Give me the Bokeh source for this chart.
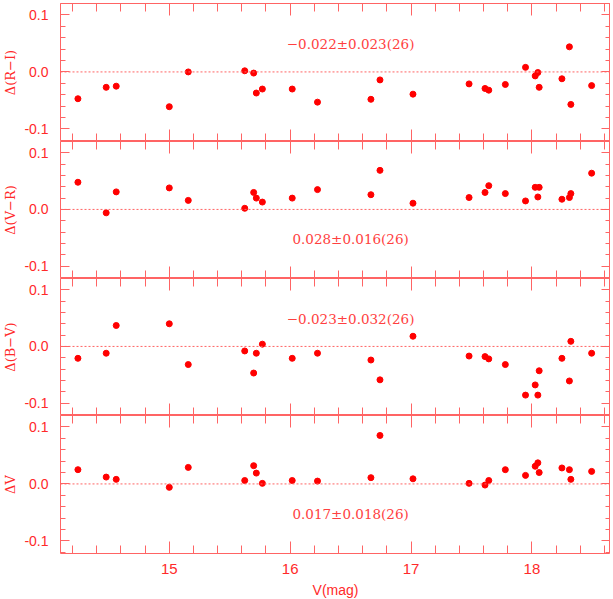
import numpy as np
from bokeh.plotting import figure
from bokeh.layouts import column
from bokeh.models import (Range1d, LinearAxis, FixedTicker,
                          PrintfTickFormatter, Span, ColumnDataSource, Label)
from bokeh.embed import file_html
from bokeh.resources import INLINE

# ---- data ----
v_mag = [14.244, 14.478, 14.561, 15.000, 15.157, 15.624, 15.698, 15.720, 15.770, 16.017,
         16.226, 16.668, 16.743, 17.016, 17.480, 17.612, 17.643, 17.780, 17.947, 18.027,
         18.049, 18.060, 18.248, 18.310, 18.322, 18.494]
d_ri = [-0.047, -0.027, -0.025, -0.061, 0.000, 0.002, -0.002, -0.037, -0.030, -0.030,
        -0.053, -0.048, -0.014, -0.039, -0.021, -0.029, -0.032, -0.022, 0.008, -0.007,
        -0.001, -0.027, -0.012, 0.044, -0.057, -0.024]
d_vr = [0.048, -0.006, 0.031, 0.038, 0.016, 0.002, 0.030, 0.020, 0.013, 0.020,
        0.035, 0.026, 0.069, 0.011, 0.021, 0.030, 0.042, 0.028, 0.015, 0.039,
        0.022, 0.039, 0.018, 0.021, 0.028, 0.064]
d_bv = [-0.021, -0.012, 0.037, 0.040, -0.032, -0.008, -0.047, -0.012, 0.004, -0.021,
        -0.012, -0.024, -0.059, 0.018, -0.017, -0.018, -0.022, -0.032, -0.086, -0.068,
        -0.086, -0.043, -0.021, -0.061, 0.009, -0.012]
d_v = [0.025, 0.012, 0.008, -0.006, 0.029, 0.006, 0.032, 0.019, 0.001, 0.006,
       0.005, 0.011, 0.085, 0.009, 0.001, -0.002, 0.006, 0.025, 0.015, 0.031,
       0.037, 0.020, 0.028, 0.025, 0.008, 0.022]

panel_labels = ["\u0394(R\u2212I)", "\u0394(V\u2212R)", "\u0394(B\u2212V)", "\u0394V"]
panel_values = [d_ri, d_vr, d_bv, d_v]
note_texts = ["\u22120.022\u00b10.023(26)", "0.028\u00b10.016(26)",
              "\u22120.023\u00b10.032(26)", "0.017\u00b10.018(26)"]
note_x = [16.5, 16.5, 16.5, 16.5]
note_y = [0.049, -0.052, 0.048, -0.052]
x_title = "V(mag)"

# ---- styling ----
FRAME = "#ff6464"
TXT = "#ff2a2a"
NOTE = "#ff4040"
DOT = "#ff0000"

X_LO, X_HI = 14.1, 18.65
Y_LO, Y_HI = -0.122, 0.12
x_major = [float(v) for v in np.arange(15, 19, 1)]
x_minor = [float(round(v, 2)) for v in np.arange(14.2, 18.61, 0.2)]
y_major = [float(round(v, 2)) for v in np.arange(-0.1, 0.11, 0.1)]
y_minor = [float(round(v, 2)) for v in np.arange(-0.12, 0.121, 0.02)]

frame_heights = [138, 137, 137, 138]

x_range = Range1d(X_LO, X_HI)


def tick_only_axis(positions, length):
    # axis without labels: ticks drawn as "minor" ticks only
    ax = LinearAxis(ticker=FixedTicker(ticks=[], minor_ticks=positions))
    ax.axis_line_color = None
    ax.major_tick_out = 0
    ax.major_tick_in = 0
    ax.minor_tick_out = 0
    ax.minor_tick_in = length
    ax.minor_tick_line_color = FRAME
    ax.minor_tick_line_width = 1
    ax.major_label_standoff = 0
    return ax


figs = []
n = len(panel_values)
for i in range(n):
    last = (i == n - 1)
    p = figure(frame_width=550, frame_height=frame_heights[i], x_range=x_range,
               y_range=Range1d(Y_LO, Y_HI),
               x_axis_type=None, y_axis_type=None,
               output_backend="svg", toolbar_location=None,
               min_border=0, min_border_left=52,
               min_border_top=(3 if i == 0 else 0))
    p.outline_line_color = FRAME
    p.outline_line_width = 1
    p.background_fill_color = "white"
    p.border_fill_color = "white"
    p.grid.visible = False

    # left axis with labels
    yl = LinearAxis(ticker=FixedTicker(ticks=y_major, minor_ticks=y_minor),
                    formatter=PrintfTickFormatter(format="%.1f"))
    yl.axis_line_color = None
    yl.major_tick_out = 0
    yl.minor_tick_out = 0
    yl.major_tick_in = 9
    yl.minor_tick_in = 5
    yl.major_tick_line_color = FRAME
    yl.minor_tick_line_color = FRAME
    yl.major_label_text_color = TXT
    yl.major_label_text_font = "Liberation Sans"
    yl.major_label_text_font_size = "14px"
    yl.major_label_standoff = 12
    yl.axis_label = panel_labels[i]
    yl.axis_label_text_font = "DejaVu Serif"
    yl.axis_label_text_font_style = "normal"
    yl.axis_label_text_font_size = "13px"
    yl.axis_label_text_color = TXT
    yl.axis_label_standoff = 3
    p.add_layout(yl, "left")

    # mirrored ticks on the right
    p.add_layout(tick_only_axis(y_minor, 5), "right")
    p.add_layout(tick_only_axis(y_major, 9), "right")

    # mirrored ticks on top
    p.add_layout(tick_only_axis(x_minor, 8), "above")
    p.add_layout(tick_only_axis(x_major, 12), "above")

    # bottom
    if last:
        xb = LinearAxis(ticker=FixedTicker(ticks=x_major, minor_ticks=x_minor))
        xb.axis_line_color = None
        xb.major_tick_out = 0
        xb.minor_tick_out = 0
        xb.major_tick_in = 12
        xb.minor_tick_in = 8
        xb.major_tick_line_color = FRAME
        xb.minor_tick_line_color = FRAME
        xb.major_label_text_color = TXT
        xb.major_label_text_font = "Liberation Sans"
        xb.major_label_text_font_size = "15px"
        xb.major_label_standoff = 10
        xb.axis_label = x_title
        xb.axis_label_text_font = "Liberation Sans"
        xb.axis_label_text_font_style = "normal"
        xb.axis_label_text_font_size = "14px"
        xb.axis_label_text_color = TXT
        xb.axis_label_standoff = 5
        p.add_layout(xb, "below")
    else:
        p.add_layout(tick_only_axis(x_minor, 8), "below")
        p.add_layout(tick_only_axis(x_major, 12), "below")

    p.add_layout(Span(location=0, dimension="width", line_color=FRAME,
                      line_dash="2 2", line_width=1))

    src = ColumnDataSource(dict(x=v_mag, y=panel_values[i]))
    p.scatter("x", "y", source=src, size=6, fill_color=DOT, line_color=DOT)

    p.add_layout(Label(x=note_x[i], y=note_y[i], text=note_texts[i],
                       text_align="center", text_baseline="middle",
                       text_font="DejaVu Serif", text_font_size="13.5px",
                       text_color=NOTE))
    figs.append(p)

layout = column(*figs, spacing=0)
open("out.html", "w").write(file_html(layout, INLINE))
